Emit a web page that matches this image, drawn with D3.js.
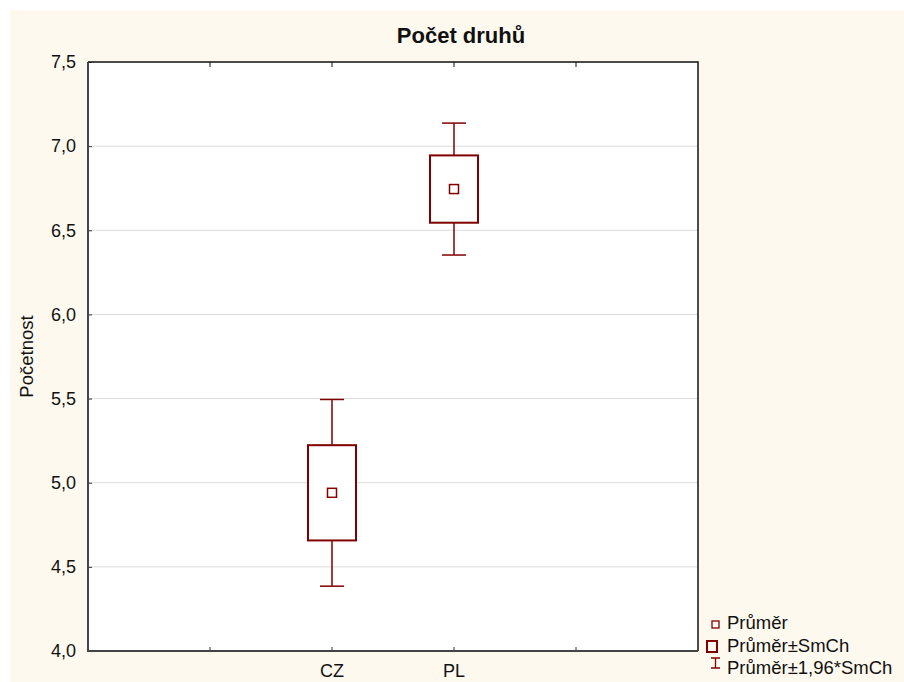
<!DOCTYPE html>
<html>
<head>
<meta charset="utf-8">
<script src="https://cdn.jsdelivr.net/npm/d3@7"></script>
<style>
  body { margin: 0; background: #fff; }
  svg { display: block; font-family: 'Liberation Sans', Arial, sans-serif; }
</style>
</head>
<body>
<svg id="chart"></svg>
<script>
// data
const categories = ['CZ', 'PL']
const means = [4.94, 6.745]
const stdErrors = [0.283, 0.2]
const yTicks = [4.0, 4.5, 5.0, 5.5, 6.0, 6.5, 7.0, 7.5]
const legendLabels = ['Průměr', 'Průměr±SmCh', 'Průměr±1,96*SmCh']

const width = 904
const height = 682
const margin = { left: 88, right: 206, top: 62, bottom: 31 }
const red = '#800000'
const fontSize = 18

const svg = d3.select('#chart').attr('width', width).attr('height', height)

// cream panel
svg.append('rect')
  .attr('x', 10).attr('y', 10)
  .attr('width', width - 10).attr('height', height - 10)
  .attr('fill', '#fdf9ee')

const x0 = margin.left
const x1 = width - margin.right
const y0 = height - margin.bottom
const y1 = margin.top

// plot area
svg.append('rect')
  .attr('x', x0).attr('y', y1)
  .attr('width', x1 - x0).attr('height', y0 - y1)
  .attr('fill', '#fff')

// category positions at 2 and 3 out of 0..5
const x = d3.scaleLinear().domain([0, 5]).range([x0, x1])
const catPos = (i) => x(i + 2)
const y = d3.scaleLinear().domain([4, 7.5]).range([y0, y1])

// grid
svg.append('g')
  .selectAll('line')
  .data(yTicks.slice(1, -1))
  .join('line')
  .attr('x1', x0).attr('x2', x1)
  .attr('y1', (d) => y(d)).attr('y2', (d) => y(d))
  .attr('stroke', '#dcdcdc')
  .attr('stroke-width', 1)

const fmt = (d) => d3.format('.1f')(d).replace('.', ',')

// y axis, ticks pointing inward
const yAxis = svg.append('g')
  .attr('transform', `translate(${x0},0)`)
  .call(d3.axisLeft(y).tickValues(yTicks).tickSize(-4).tickPadding(12).tickFormat(fmt))
yAxis.select('.domain').remove()
yAxis.selectAll('line').attr('stroke', '#333')
yAxis.selectAll('text').attr('font-size', fontSize).attr('fill', '#111')
  .attr('font-family', "'Liberation Sans', Arial, sans-serif")

// x axis ticks (bottom and top, inward)
const xTickVals = [1, 2, 3, 4]
svg.append('g')
  .selectAll('line')
  .data(xTickVals)
  .join('line')
  .attr('x1', (d) => x(d)).attr('x2', (d) => x(d))
  .attr('y1', y0).attr('y2', y0 - 4)
  .attr('stroke', '#333')
svg.append('g')
  .selectAll('line')
  .data(xTickVals)
  .join('line')
  .attr('x1', (d) => x(d)).attr('x2', (d) => x(d))
  .attr('y1', y1).attr('y2', y1 + 5)
  .attr('stroke', '#111')

// category labels
svg.append('g')
  .selectAll('text')
  .data(categories)
  .join('text')
  .attr('x', (d, i) => catPos(i))
  .attr('y', 677)
  .attr('text-anchor', 'middle')
  .attr('font-size', fontSize)
  .attr('fill', '#111')
  .text((d) => d)

// frame
svg.append('path')
  .attr('d', `M${x0},${y1}H${x1}V${y0}`)
  .attr('fill', 'none').attr('stroke', '#111').attr('stroke-width', 1.5)
svg.append('path')
  .attr('d', `M${x0},${y1}V${y0}H${x1}`)
  .attr('fill', 'none').attr('stroke', '#444').attr('stroke-width', 2)

// boxes
const boxW = 48
const capW = 24
const g = svg.append('g').selectAll('g')
  .data(categories.map((c, i) => ({ c, i, m: means[i], se: stdErrors[i] })))
  .join('g')

// whiskers
g.append('line')
  .attr('x1', (d) => catPos(d.i)).attr('x2', (d) => catPos(d.i))
  .attr('y1', (d) => y(d.m + 1.96 * d.se)).attr('y2', (d) => y(d.m + d.se))
  .attr('stroke', red).attr('stroke-width', 1.5)
g.append('line')
  .attr('x1', (d) => catPos(d.i)).attr('x2', (d) => catPos(d.i))
  .attr('y1', (d) => y(d.m - d.se)).attr('y2', (d) => y(d.m - 1.96 * d.se))
  .attr('stroke', red).attr('stroke-width', 1.5)
g.append('line')
  .attr('x1', (d) => catPos(d.i) - capW / 2).attr('x2', (d) => catPos(d.i) + capW / 2)
  .attr('y1', (d) => y(d.m + 1.96 * d.se)).attr('y2', (d) => y(d.m + 1.96 * d.se))
  .attr('stroke', red).attr('stroke-width', 1.5)
g.append('line')
  .attr('x1', (d) => catPos(d.i) - capW / 2).attr('x2', (d) => catPos(d.i) + capW / 2)
  .attr('y1', (d) => y(d.m - 1.96 * d.se)).attr('y2', (d) => y(d.m - 1.96 * d.se))
  .attr('stroke', red).attr('stroke-width', 1.5)

// box
g.append('rect')
  .attr('x', (d) => catPos(d.i) - boxW / 2)
  .attr('y', (d) => y(d.m + d.se))
  .attr('width', boxW)
  .attr('height', (d) => y(d.m - d.se) - y(d.m + d.se))
  .attr('fill', '#fff').attr('stroke', red).attr('stroke-width', 2)

// mean marker
g.append('rect')
  .attr('x', (d) => catPos(d.i) - 4.5)
  .attr('y', (d) => y(d.m) - 4.5)
  .attr('width', 9).attr('height', 9)
  .attr('fill', '#fff').attr('stroke', red).attr('stroke-width', 1.5)

// title
svg.append('text')
  .attr('x', 461).attr('y', 43)
  .attr('text-anchor', 'middle')
  .attr('font-size', 22).attr('font-weight', 'bold')
  .attr('fill', '#111')
  .text('Počet druhů')

// y label
svg.append('text')
  .attr('transform', `translate(33,${(y0 + y1) / 2}) rotate(-90)`)
  .attr('text-anchor', 'middle')
  .attr('font-size', 18.5)
  .attr('fill', '#111')
  .text('Početnost')

// legend
const legend = svg.append('g')
const lx = 727
const rows = [629, 652, 674]
legend.selectAll('text')
  .data(legendLabels)
  .join('text')
  .attr('x', lx).attr('y', (d, i) => rows[i])
  .attr('font-size', 18.5).attr('fill', '#111')
  .text((d) => d)
legend.append('rect')
  .attr('x', 712).attr('y', 621).attr('width', 7).attr('height', 7)
  .attr('fill', 'none').attr('stroke', red).attr('stroke-width', 1.3)
legend.append('rect')
  .attr('x', 707).attr('y', 641).attr('width', 10).attr('height', 11)
  .attr('fill', 'none').attr('stroke', red).attr('stroke-width', 2)
legend.append('path')
  .attr('d', 'M711,658H720M715.5,658V668M711,668H720')
  .attr('fill', 'none').attr('stroke', red).attr('stroke-width', 1.3)
</script>
</body>
</html>
